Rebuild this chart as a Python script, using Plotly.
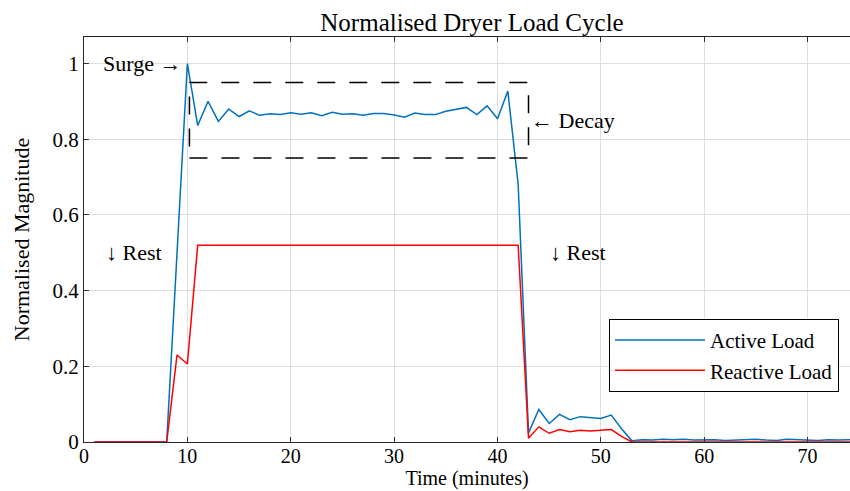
import plotly.graph_objects as go

minutes = list(range(1, 76))

active_load = [
    0, 0, 0, 0, 0, 0, 0, 0,            # 1-8
    0.50, 1.00, 0.836, 0.900, 0.847, 0.880, 0.860, 0.875, 0.863, 0.867, 0.865, 0.870,  # 9-20
    0.866, 0.870, 0.862, 0.871, 0.866, 0.867, 0.863, 0.868, 0.868, 0.864,              # 21-30
    0.858, 0.869, 0.865, 0.865, 0.874, 0.879, 0.884, 0.865, 0.888, 0.854,              # 31-40
    0.927, 0.680, 0.024, 0.086, 0.049, 0.073, 0.059, 0.067, 0.064, 0.062,              # 41-50
    0.071, 0.035, 0.003, 0.006, 0.005, 0.007, 0.006, 0.007, 0.005, 0.006,              # 51-60
    0.006, 0.004, 0.005, 0.006, 0.007, 0.005, 0.004, 0.007, 0.006, 0.005,              # 61-70
    0.004, 0.006, 0.005, 0.006, 0.005,                                                 # 71-75
]

reactive_load = [
    0, 0, 0, 0, 0, 0, 0, 0,            # 1-8
    0.23, 0.206, 0.52, 0.52, 0.52, 0.52, 0.52, 0.52, 0.52, 0.52, 0.52, 0.52,          # 9-20
    0.52, 0.52, 0.52, 0.52, 0.52, 0.52, 0.52, 0.52, 0.52, 0.52,                       # 21-30
    0.52, 0.52, 0.52, 0.52, 0.52, 0.52, 0.52, 0.52, 0.52, 0.52,                       # 31-40
    0.52, 0.52, 0.010, 0.040, 0.023, 0.033, 0.027, 0.031, 0.029, 0.030,               # 41-50
    0.033, 0.015, 0, 0, 0, 0, 0, 0, 0, 0,                                              # 51-60
    0, 0, 0, 0, 0, 0, 0, 0, 0, 0,                                                      # 61-70
    0, 0, 0, 0, 0,                                                                     # 71-75
]

x_ticks = [0, 10, 20, 30, 40, 50, 60, 70]
y_ticks = [0, 0.2, 0.4, 0.6, 0.8, 1.0]
y_tick_labels = ["0", "0.2", "0.4", "0.6", "0.8", "1"]

FONT = "Liberation Serif"
TXT = 22

fig = go.Figure()
fig.add_trace(go.Scatter(x=minutes, y=active_load, mode="lines", name="Active Load",
                         line=dict(color="#0072BD", width=1.5)))
fig.add_trace(go.Scatter(x=minutes, y=reactive_load, mode="lines", name="Reactive Load",
                         line=dict(color="#FF0000", width=1.5)))

# dashed "decay" box
fig.add_shape(type="rect", x0=10.2, x1=43.0, y0=0.75, y1=0.95, xref="x", yref="y",
              line=dict(color="black", width=1.5, dash="18px,14px"))

ann_font = dict(family=FONT, size=TXT, color="black")
fig.add_annotation(x=9.6, y=1.0, xref="x", yref="y", text="Surge \u2192", showarrow=False,
                   xanchor="right", yanchor="middle", font=ann_font)
fig.add_annotation(x=1.9, y=0.5, xref="x", yref="y", text="\u2193 Rest", showarrow=False,
                   xanchor="left", yanchor="middle", font=ann_font)
fig.add_annotation(x=44.9, y=0.5, xref="x", yref="y", text="\u2193 Rest", showarrow=False,
                   xanchor="left", yanchor="middle", font=ann_font)
fig.add_annotation(x=43.05, y=0.85, xref="x", yref="y", text="\u2190 Decay", showarrow=False,
                   xanchor="left", yanchor="middle", font=ann_font)

fig.update_layout(
    width=850, height=491,
    margin=dict(l=84, r=0, t=37, b=49),
    paper_bgcolor="white", plot_bgcolor="white",
    font=dict(family=FONT, size=TXT, color="black"),
    title=dict(text="Normalised Dryer Load Cycle", x=472 / 850, xref="container",
               xanchor="center", y=1 - 22 / 491, yref="container", yanchor="middle",
               font=dict(family=FONT, size=25, color="black")),
    showlegend=True,
    legend=dict(x=(609 - 84) / 766, xanchor="left", y=0.304, yanchor="top",
                bgcolor="white", bordercolor="black", borderwidth=1,
                font=dict(family=FONT, size=21, color="black"),
                itemwidth=90, tracegroupgap=0),
)

fig.update_xaxes(
    range=[0, 74.1], tickvals=x_ticks, ticks="inside", ticklen=5, tickcolor="#333",
    showline=True, linecolor="#262626", linewidth=1, mirror="ticks",
    showgrid=True, gridcolor="#dedede", gridwidth=1, zeroline=False,
    tickfont=dict(family=FONT, size=20, color="black"), ticklabelstandoff=-4,
    title=dict(text="Time (minutes)", standoff=0, font=dict(family=FONT, size=20, color="black")),
)
fig.update_yaxes(
    range=[0, 1.07], tickvals=y_ticks, ticktext=y_tick_labels, ticks="inside", ticklen=5,
    tickcolor="#333", showline=True, linecolor="#262626", linewidth=1, mirror=False,
    showgrid=True, gridcolor="#dedede", gridwidth=1, zeroline=False,
    tickfont=dict(family=FONT, size=21, color="black"),
    title=dict(text="Normalised Magnitude", standoff=16, font=dict(family=FONT, size=TXT, color="black")),
)

fig.write_html("out.html")
